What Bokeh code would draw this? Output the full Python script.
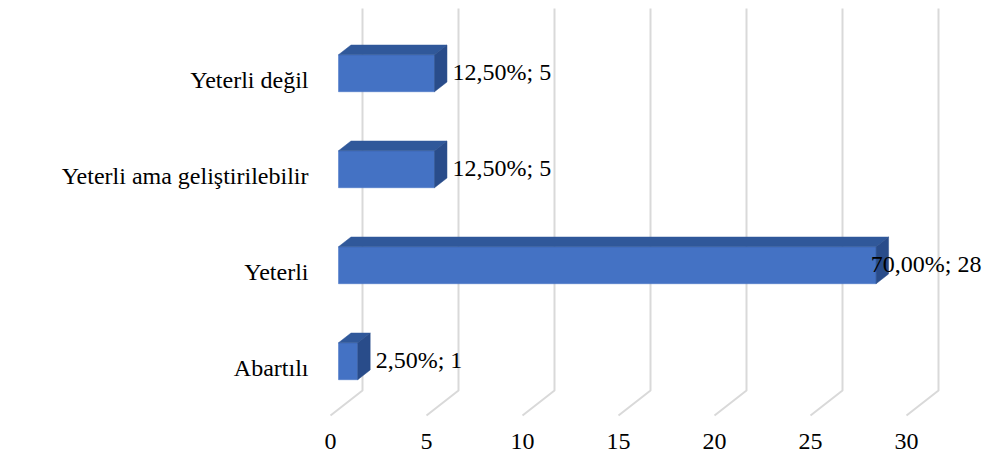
from bokeh.plotting import figure
from bokeh.models import Range1d, FixedTicker, ColumnDataSource
from bokeh.core.properties import value
from bokeh.embed import file_html
from bokeh.resources import INLINE

# ---- data (bottom to top) ----
categories = ["Abartılı", "Yeterli", "Yeterli ama geliştirilebilir", "Yeterli değil"]
counts = [1, 28, 5, 5]
percents = ["2,50%", "70,00%", "12,50%", "12,50%"]
x_ticks = [0, 5, 10, 15, 20, 25, 30]

# ---- style / 3D geometry (data units) ----
PX_X, PX_Y = 19.2, 96.0          # pixels per value unit / per category
DX, DY = 32 / PX_X, 25 / PX_Y    # full floor depth offset
F0, F1 = 0.25, 0.64              # bar front / back depth fractions
HALF = 0.385 / 2                 # half bar height (category units)
FONT = "Liberation Serif"
FS = "24px"
LABEL_GAP = 18 / PX_X
LABEL_LIMIT = 33.9

W, H = 984, 459
FR_L, FR_R, FR_T, FR_B = 318, 982, 8, 418   # frame edges in page pixels
p = figure(width=W, height=H, output_backend="svg", toolbar_location=None,
           x_range=Range1d((FR_L - 330) / PX_X, (FR_R - 330) / PX_X),
           y_range=Range1d((415 - FR_B) / PX_Y, (415 - FR_T) / PX_Y),
           min_border_left=FR_L, min_border_right=W - FR_R, min_border_top=FR_T,
           min_border_bottom=H - FR_B)
p.outline_line_color = None
p.grid.visible = False
p.background_fill_color = "white"
p.border_fill_color = "white"

n = len(categories)
# gridlines: back-plane verticals with a floor foot towards the front
p.multi_line(xs=[[t, t + DX, t + DX] for t in x_ticks],
             ys=[[0, DY, n + DY] for t in x_ticks],
             line_color="#D9D9D9", line_width=2)

yc = [i + 0.5 for i in range(n)]
# front faces
p.quad(left=[F0 * DX] * n, right=[v + F0 * DX for v in counts],
       bottom=[c - HALF + F0 * DY for c in yc], top=[c + HALF + F0 * DY for c in yc],
       fill_color="#4472C4", line_color="#4472C4", line_width=0.5)
# top and side faces
top_xs, top_ys, side_xs, side_ys = [], [], [], []
for v, c in zip(counts, yc):
    top_xs.append([F0 * DX, F1 * DX, v + F1 * DX, v + F0 * DX])
    top_ys.append([c + HALF + F0 * DY, c + HALF + F1 * DY, c + HALF + F1 * DY, c + HALF + F0 * DY])
    side_xs.append([v + F0 * DX, v + F1 * DX, v + F1 * DX, v + F0 * DX])
    side_ys.append([c + HALF + F0 * DY, c + HALF + F1 * DY, c - HALF + F1 * DY, c - HALF + F0 * DY])
p.patches(top_xs, top_ys, fill_color="#30589A", line_color="#30589A", line_width=0.5)
p.patches(side_xs, side_ys, fill_color="#294C8A", line_color="#294C8A", line_width=0.5)

# data labels
labels = [f"{pc}; {v}" for pc, v in zip(percents, counts)]
lx, align = [], []
for v, t in zip(counts, labels):
    start = v + F0 * DX + LABEL_GAP
    est_w = len(t) * 0.47 * 24 / PX_X
    if start + est_w > LABEL_LIMIT:
        lx.append(LABEL_LIMIT); align.append("right")
    else:
        lx.append(start); align.append("left")
src = ColumnDataSource(dict(x=lx, y=[c + F0 * DY + 0.01 for c in yc], t=labels, a=align))
p.text(x="x", y="y", text="t", text_align="a", text_baseline="middle", source=src,
       text_font=value(FONT), text_font_size=FS, text_color="black")

# axes
xa = p.xaxis[0]
xa.ticker = FixedTicker(ticks=x_ticks)
xa.axis_line_color = None
xa.major_tick_line_color = None
xa.minor_tick_line_color = None
xa.major_tick_out = 0
xa.major_label_standoff = 15
xa.major_label_text_font = FONT
xa.major_label_text_font_size = FS
xa.major_label_text_color = "black"

ya = p.yaxis[0]
ya.ticker = FixedTicker(ticks=yc)
ya.major_label_overrides = {c: cat for c, cat in zip(yc, categories)}
ya.axis_line_color = None
ya.major_tick_line_color = None
ya.minor_tick_line_color = None
ya.major_tick_out = 0
ya.major_label_standoff = 10
ya.major_label_text_font = FONT
ya.major_label_text_font_size = FS
ya.major_label_text_color = "black"

open("out.html", "w").write(file_html(p, INLINE))
